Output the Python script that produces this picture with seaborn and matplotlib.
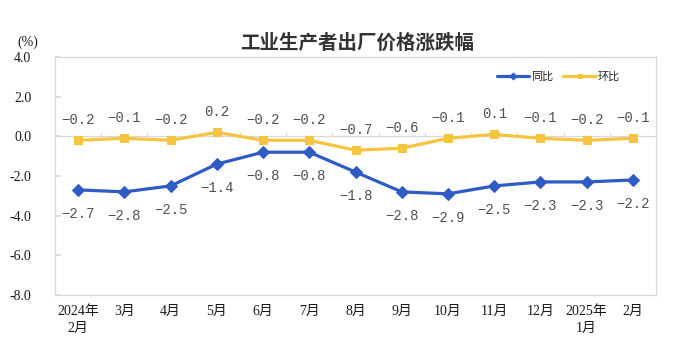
import numpy as np
import pandas as pd
import matplotlib
matplotlib.use("Agg")
import matplotlib.pyplot as plt
import seaborn as sns

# ---- data ----
months = ["2024年\n2月", "3月", "4月", "5月", "6月", "7月", "8月", "9月",
          "10月", "11月", "12月", "2025年\n1月", "2月"]
yoy = [-2.7, -2.8, -2.5, -1.4, -0.8, -0.8, -1.8, -2.8, -2.9, -2.5, -2.3, -2.3, -2.2]
mom = [-0.2, -0.1, -0.2, 0.2, -0.2, -0.2, -0.7, -0.6, -0.1, 0.1, -0.1, -0.2, -0.1]
series_names = ["同比", "环比"]
yticks = [4.0, 2.0, 0.0, -2.0, -4.0, -6.0, -8.0]
title = "工业生产者出厂价格涨跌幅"
unit = "(%)"

BLUE = "#2E5BC4"
YELLOW = "#F5C540"
FRAME = "#d9d9d9"

sns.set_theme(style="white")
plt.rcParams["font.family"] = ["Liberation Serif", "Noto Sans CJK SC", "DejaVu Sans"]

fig = plt.figure(figsize=(6.74, 3.5), dpi=100)
ax = fig.add_axes([55 / 674, 1 - 295 / 350, 601 / 674, 238 / 350])

pos = np.arange(len(months))
df = pd.DataFrame({"pos": pos, series_names[0]: yoy, series_names[1]: mom})

sns.lineplot(data=df, x="pos", y=series_names[0], ax=ax, color=BLUE, lw=2.3,
             marker="D", markersize=6.5, markeredgecolor=BLUE, label=series_names[0], sort=False)
sns.lineplot(data=df, x="pos", y=series_names[1], ax=ax, color=YELLOW, lw=2.3,
             marker="s", markersize=6, markeredgecolor=YELLOW, label=series_names[1], sort=False)

ax.set_xlim(-0.5, len(months) - 0.5)
ax.set_ylim(min(yticks), max(yticks))
ax.set_yticks(yticks)
ax.set_yticklabels([f"{t:.1f}" for t in yticks], fontsize=10, color="#1a1a1a")
ax.set_xticks(pos)
ax.set_xticklabels(months, fontsize=10, color="#1a1a1a", linespacing=1.45,
                   family=["Liberation Serif", "Noto Sans CJK SC"])
ax.set_xlabel("")
ax.set_ylabel("")
ax.tick_params(axis="y", direction="in", length=4, color=FRAME, pad=17, left=True)
ax.tick_params(axis="x", length=0, pad=7)
for s in ax.spines.values():
    s.set_color(FRAME)
    s.set_linewidth(0.9)

# zero axis line with category boundary ticks
loc0 = (0 - min(yticks)) / (max(yticks) - min(yticks))
sec = ax.secondary_xaxis(loc0)
sec.set_xticks(np.arange(0.5, len(months) - 1, 1.0))
sec.set_xticklabels([])
sec.tick_params(direction="out", length=3, color=FRAME, width=0.8)
for s in sec.spines.values():
    s.set_color(FRAME)
    s.set_linewidth(0.9)

# data labels
lab_font = dict(family=["Liberation Mono", "DejaVu Sans Mono"], fontsize=10, color="#505050",
                ha="center", va="center")
def fmt(v):
    return f"{v:.1f}".replace("-", "\u2212")
for i, v in enumerate(mom):
    ax.annotate(fmt(v), xy=(pos[i], v), xytext=(0, 20), textcoords="offset pixels", **lab_font)
for i, v in enumerate(yoy):
    ax.annotate(fmt(v), xy=(pos[i], v), xytext=(0, -24), textcoords="offset pixels", **lab_font)

# legend
leg = ax.legend(loc="center left", bbox_to_anchor=(0.735, 0.916), frameon=False, ncol=2,
                prop={"family": ["Noto Sans CJK SC"], "size": 8}, handlelength=2.9,
                handletextpad=0.2, columnspacing=0.9, borderpad=0, borderaxespad=0)
for h in leg.legend_handles:
    h.set_markersize(3.5)

fig.text(357 / 674, 1 - 43 / 350, title, ha="center", va="center", fontsize=14,
         fontweight="bold", color="#333333", family=["Noto Sans CJK SC"])
fig.text(28 / 674, 1 - 42 / 350, unit, ha="center", va="center", fontsize=10, color="#1a1a1a")

fig.savefig("out.png", dpi=100)
